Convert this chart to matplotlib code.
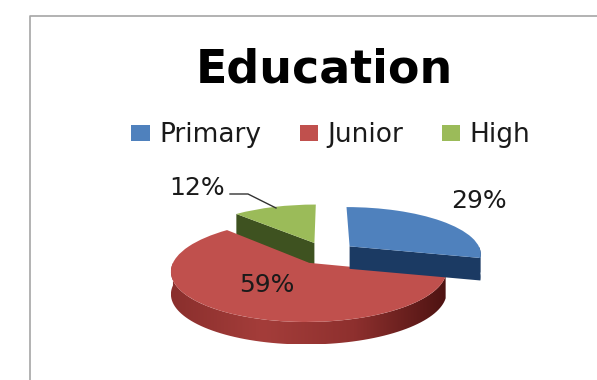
import numpy as np
import matplotlib
matplotlib.use('Agg')
import matplotlib.pyplot as plt
from matplotlib.colors import LinearSegmentedColormap
from matplotlib.patches import Patch, Polygon
from matplotlib.transforms import Transform

plt.rcParams['font.family'] = ['DejaVu Sans']

title = 'Education'
categories = ['Primary', 'Junior', 'High']
values = [29, 59, 12]

colors = ['#4F81BD', '#C0504D', '#9BBB59']
side_colors = [['#1B3A63', '#1B3A63'],
               ['#8A2F2D', '#A43D3A', '#8E302E', '#4E1312'],
               ['#3E5220', '#3E5220']]

# tilted disc, nearer edge drawn larger
CX, CY = 325.5, 253.0
RX, RY = 132.0, 47.0
PERSPECTIVE = 0.15
DEPTH = 22.5
EXPLODE = 0.236


class TiltedDisc(Transform):
    input_dims = 2
    output_dims = 2

    def transform_non_affine(self, xy):
        xy = np.asarray(xy, dtype=float)
        k = 1.0 / (1.0 + PERSPECTIVE * xy[:, 1])
        return np.column_stack([CX + RX * xy[:, 0] * k, CY - RY * xy[:, 1] * k])


def arc_points(wedge, t0, t1):
    t = np.radians(np.linspace(t0, t1, 80))
    return np.column_stack([wedge.center[0] + wedge.r * np.cos(t),
                            wedge.center[1] + wedge.r * np.sin(t)])


def extrude(top):
    lower = top + [0, DEPTH]
    return np.vstack([top, lower[::-1]])


fig = plt.figure(figsize=(5.97, 3.80), dpi=100)
ax = fig.add_axes([0, 0, 1, 1])

wedges, _ = ax.pie(values, colors=colors, startangle=90, counterclock=False,
                   explode=[EXPLODE] * len(values), wedgeprops={'linewidth': 0})
ax.set_aspect('auto')

disc = TiltedDisc()
order = {'High': 1, 'Junior': 2, 'Primary': 3}

for wedge, name, stops in zip(wedges, categories, side_colors):
    z = order[name] * 10
    wedge.set_transform(disc + ax.transData)
    wedge.set_zorder(z + 2)

    # outer rim, only the part facing front
    t = np.linspace(wedge.theta1, wedge.theta2, 300)
    front = t[np.sin(np.radians(t)) < 0]
    if len(front) > 1:
        rim = extrude(disc.transform(arc_points(wedge, front[0], front[-1])))
        clip = Polygon(rim, closed=True, transform=ax.transData, facecolor='none', edgecolor='none')
        ax.add_patch(clip)
        x0, x1 = rim[:, 0].min(), rim[:, 0].max()
        y0, y1 = rim[:, 1].min(), rim[:, 1].max()
        cmap = LinearSegmentedColormap.from_list(name, stops)
        im = ax.imshow(np.linspace(0, 1, 256).reshape(1, -1), cmap=cmap, aspect='auto',
                       extent=[x0, x1, y1, y0], zorder=z)
        im.set_clip_path(clip)

    # straight cut faces that look towards the viewer
    for angle, sign in [(wedge.theta1, 1), (wedge.theta2, -1)]:
        if sign * np.cos(np.radians(angle)) > 1e-6:
            a = np.radians(angle)
            edge = np.array([wedge.center,
                             [wedge.center[0] + wedge.r * np.cos(a),
                              wedge.center[1] + wedge.r * np.sin(a)]])
            ax.add_patch(Polygon(extrude(disc.transform(edge)), closed=True,
                                 facecolor=stops[0], edgecolor='none', zorder=z + 1))

ax.set_xlim(0, 597)
ax.set_ylim(380, 0)
ax.axis('off')

# chart frame
ax.plot([30, 30, 597], [380, 16, 16], color='#A6A6A6', lw=1.2, zorder=1)

ax.text(324, 65, title, ha='center', va='center_baseline', fontsize=33, fontweight='bold', color='black')

handles = [Patch(facecolor=c, edgecolor='none') for c in colors]
ax.legend(handles, categories, ncol=3, loc='center', bbox_to_anchor=(331, 135),
          bbox_transform=ax.transData, frameon=False, fontsize=19, labelcolor='#1A1A1A',
          handlelength=0.7, handleheight=0.57, handletextpad=0.36, columnspacing=1.45,
          labelspacing=0, borderpad=0)

label_pos = [(479, 201), (267, 285), (197, 188)]
for v, pos in zip(values, label_pos):
    ax.text(pos[0], pos[1], f'{v}%', ha='center', va='center', fontsize=18,
            color='#1A1A1A', zorder=60)

# leader line for the small slice
ax.plot([230, 248, 276], [194, 194, 208], color='#333333', lw=1, zorder=60)

fig.savefig('out.png', dpi=100)
